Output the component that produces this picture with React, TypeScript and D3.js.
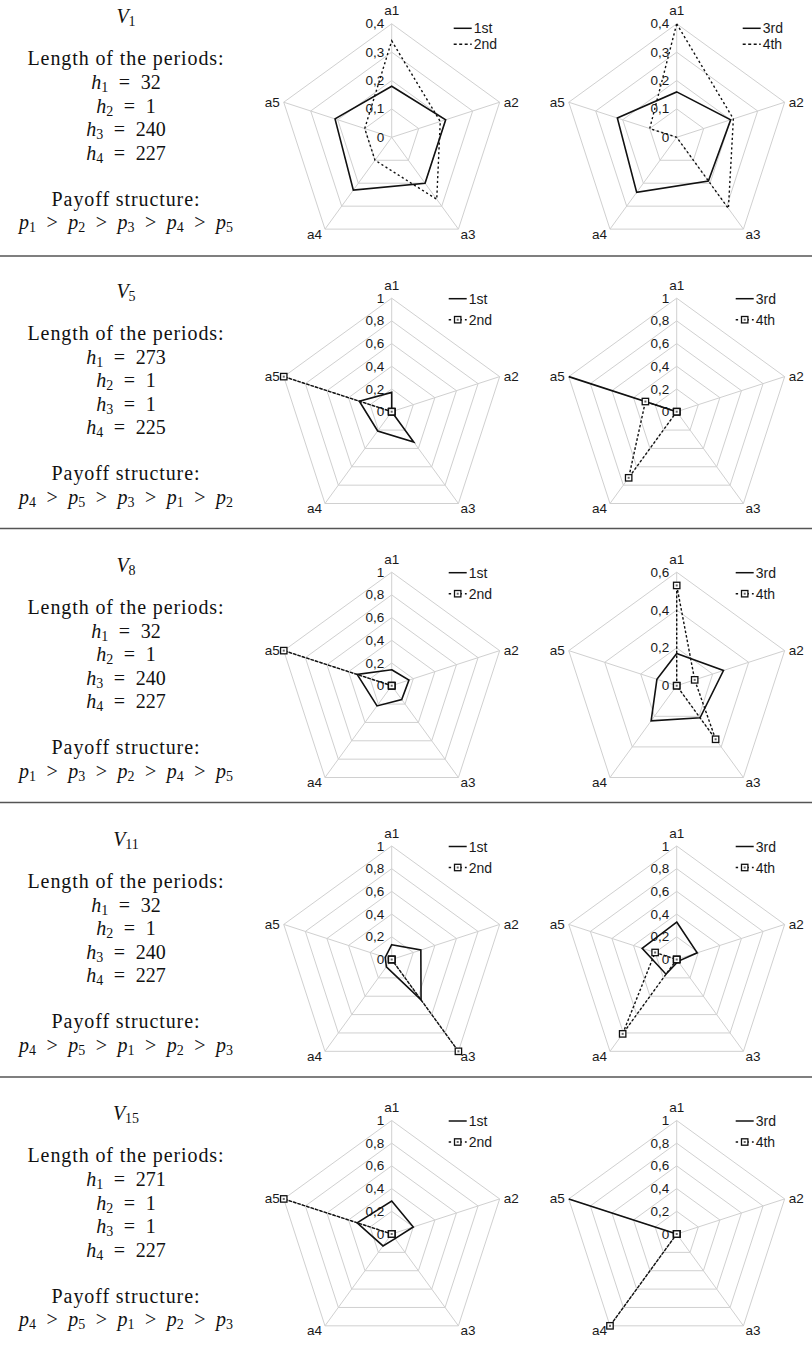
import React from "react";
import * as d3 from "d3";

// ---------- data ----------
const AXES = ["a1", "a2", "a3", "a4", "a5"];
const VENUES = ["1", "5", "8", "11", "15"];
const PERIOD_LENGTHS = [
  [32, 1, 240, 227],
  [273, 1, 1, 225],
  [32, 1, 240, 227],
  [32, 1, 240, 227],
  [271, 1, 1, 227],
];
const PAYOFF_ORDERS = [
  [1, 2, 3, 4, 5],
  [4, 5, 3, 1, 2],
  [1, 3, 2, 4, 5],
  [4, 5, 1, 2, 3],
  [4, 5, 1, 2, 3],
];
const LEFT_NAMES = ["1st", "2nd"];
const RIGHT_NAMES = ["3rd", "4th"];

const V1_1ST = [0.18, 0.2, 0.2, 0.23, 0.21];
const V1_2ND = [0.34, 0.18, 0.27, 0.1, 0.1];
const V1_3RD = [0.16, 0.2, 0.19, 0.24, 0.22];
const V1_4TH = [0.4, 0.21, 0.31, 0, 0.1];
const V5_1ST = [0.17, 0, 0.33, 0.21, 0.3];
const V5_2ND = [0, 0, 0, 0, 1];
const V5_3RD = [0, 0, 0, 0, 1];
const V5_4TH = [0, 0, 0, 0.72, 0.29];
const V8_1ST = [0.14, 0.16, 0.15, 0.22, 0.32];
const V8_2ND = [0, 0, 0, 0, 1];
const V8_3RD = [0.17, 0.26, 0.21, 0.23, 0.11];
const V8_4TH = [0.53, 0.1, 0.35, 0, 0];
const V11_1ST = [0.13, 0.27, 0.44, 0.08, 0.06];
const V11_2ND = [0, 0, 1, 0, 0];
const V11_3RD = [0.33, 0.19, 0.02, 0.16, 0.32];
const V11_4TH = [0, 0, 0, 0.81, 0.2];
const V15_1ST = [0.29, 0.2, 0.05, 0.13, 0.32];
const V15_2ND = [0, 0, 0, 0, 1];
const V15_3RD = [0, 0, 0, 0, 1];
const V15_4TH = [0, 0, 0, 1, 0];

const LEFT_SERIES = [
  [V1_1ST, V1_2ND],
  [V5_1ST, V5_2ND],
  [V8_1ST, V8_2ND],
  [V11_1ST, V11_2ND],
  [V15_1ST, V15_2ND],
];
const RIGHT_SERIES = [
  [V1_3RD, V1_4TH],
  [V5_3RD, V5_4TH],
  [V8_3RD, V8_4TH],
  [V11_3RD, V11_4TH],
  [V15_3RD, V15_4TH],
];
const LEFT_MAX = [0.4, 1, 1, 1, 1];
const RIGHT_MAX = [0.4, 1, 0.6, 1, 1];
const TICK_STEPS = [0.1, 0.2, 0.2, 0.2, 0.2];
const HAS_MARKERS = [false, true, true, true, true];

// ---------- layout ----------
const W = 812;
const H = 1353;
const ROW_CY = [137.3, 411.7, 685.7, 959.5, 1234];
const COL_CX = [391.7, 676.7];
const R = 113.5;
const SEPARATOR_Y = [256, 528.5, 802.5, 1077];
const TEXT_CX = 126;
const SERIF = "'Liberation Serif', 'Times New Roman', serif";
const SANS = "'Liberation Sans', Arial, sans-serif";
const INK = "#111";
const GRID = "#d0d0d0";
const LABEL = "#1a1a1a";

const locale = d3.formatLocale({ decimal: ",", thousands: ".", grouping: [3], currency: ["", ""] });
const fmt = locale.format("~g");

const angle = (i: number) => (i * 2 * Math.PI) / AXES.length;

function Marker({ x, y }: { x: number; y: number }) {
  return (
    <g>
      <rect x={x - 3.2} y={y - 3.2} width={6.4} height={6.4} fill="#fff" stroke={INK} strokeWidth={1.3} />
      <rect x={x - 1} y={y - 1} width={2} height={2} fill="#666" />
    </g>
  );
}

function Radar(props: {
  cx: number;
  cy: number;
  max: number;
  step: number;
  series: number[][];
  names: string[];
  markers: boolean;
  legendDx: number;
  legendDy: number[];
}) {
  const { cx, cy, max, step, series, names, markers, legendDx, legendDy } = props;
  const r = d3.scaleLinear().domain([0, max]).range([0, R]);
  const ticks = d3.range(0, max + step / 2, step).map((t) => +t.toFixed(4));
  const radial = d3
    .lineRadial<number>()
    .angle((_d, i) => angle(i))
    .radius((d) => r(d))
    .curve(d3.curveLinearClosed);
  const pt = (i: number, v: number) => [cx + r(v) * Math.sin(angle(i)), cy - r(v) * Math.cos(angle(i))];
  const dash = markers ? "2.6,2" : "2.2,2.6";

  const labelPos = (i: number) => {
    const [x, y] = pt(i, max);
    if (i === 0) return { x, y: y - 13, anchor: "middle" };
    if (i === 1) return { x: x + 4, y, anchor: "start" };
    if (i === 2) return { x: x + 2, y: y + 5, anchor: "start" };
    if (i === 3) return { x: x - 3, y: y + 5, anchor: "end" };
    return { x: x - 4, y, anchor: "end" };
  };

  const lx0 = cx + legendDx;
  const lx1 = lx0 + 18;

  return (
    <g>
      {ticks
        .filter((t) => t > 0)
        .map((t) => (
          <path
            key={"ring" + t}
            d={radial(AXES.map(() => t)) || ""}
            transform={`translate(${cx},${cy})`}
            fill="none"
            stroke={GRID}
            strokeWidth={1}
          />
        ))}
      {AXES.map((a, i) => {
        const [x, y] = pt(i, max);
        return <line key={"sp" + a} x1={cx} y1={cy} x2={x} y2={y} stroke={GRID} strokeWidth={1} />;
      })}
      {ticks.map((t) => (
        <text
          key={"tk" + t}
          x={cx - 7.5}
          y={cy - r(t)}
          textAnchor="end"
          dominantBaseline="central"
          fontFamily={SANS}
          fontSize={13.5}
          fill={LABEL}
        >
          {fmt(t)}
        </text>
      ))}
      {AXES.map((a, i) => {
        const p = labelPos(i);
        return (
          <text
            key={"al" + a}
            x={p.x}
            y={p.y}
            textAnchor={p.anchor as any}
            dominantBaseline="central"
            fontFamily={SANS}
            fontSize={13.5}
            fill={LABEL}
          >
            {a}
          </text>
        );
      })}
      <path
        d={radial(series[1]) || ""}
        transform={`translate(${cx},${cy})`}
        fill="none"
        stroke={INK}
        strokeWidth={1.4}
        strokeDasharray={dash}
      />
      <path
        d={radial(series[0]) || ""}
        transform={`translate(${cx},${cy})`}
        fill="none"
        stroke={INK}
        strokeWidth={1.6}
      />
      {markers &&
        series[1].map((v, i) => {
          const [x, y] = pt(i, v);
          return <Marker key={"mk" + i} x={x} y={y} />;
        })}
      <line x1={lx0} x2={lx1} y1={cy + legendDy[0]} y2={cy + legendDy[0]} stroke={INK} strokeWidth={1.5} />
      <text
        x={lx1 + 2}
        y={cy + legendDy[0]}
        dominantBaseline="central"
        fontFamily={SANS}
        fontSize={14}
        fill={LABEL}
      >
        {names[0]}
      </text>
      <line
        x1={lx0}
        x2={lx1}
        y1={cy + legendDy[1]}
        y2={cy + legendDy[1]}
        stroke={INK}
        strokeWidth={1.4}
        strokeDasharray={markers ? "2.4,3" : "3,2.5"}
      />
      {markers && <Marker x={(lx0 + lx1) / 2} y={cy + legendDy[1]} />}
      <text
        x={lx1 + 2}
        y={cy + legendDy[1]}
        dominantBaseline="central"
        fontFamily={SANS}
        fontSize={14}
        fill={LABEL}
      >
        {names[1]}
      </text>
    </g>
  );
}

const GAP = 10.5;
const SUB_SIZE = 14;
const SUB_SHIFT = 5;

function InfoBlock({ row, cy }: { row: number; cy: number }) {
  const lines = PERIOD_LENGTHS[row];
  const order = PAYOFF_ORDERS[row];
  const base = { x: TEXT_CX, textAnchor: "middle" as const, fontFamily: SERIF, fontSize: 20, fill: "#111" };
  const lineY = (k: number) => cy - 55 + k * 23.5;
  return (
    <g>
      <text {...base} y={cy - 121} dominantBaseline="central">
        <tspan fontStyle="italic">V</tspan>
        <tspan fontSize={SUB_SIZE} dy={SUB_SHIFT}>
          {VENUES[row]}
        </tspan>
      </text>
      <text {...base} y={cy - 79} dominantBaseline="central" letterSpacing={0.9}>
        Length of the periods:
      </text>
      {lines.map((v, k) => (
        <text key={k} {...base} y={lineY(k)} dominantBaseline="central">
          <tspan fontStyle="italic">h</tspan>
          <tspan fontSize={SUB_SIZE} dy={SUB_SHIFT}>
            {String(k + 1)}
          </tspan>
          <tspan dx={GAP} dy={-SUB_SHIFT}>
            =
          </tspan>
          <tspan dx={GAP}>{String(v)}</tspan>
        </text>
      ))}
      <text {...base} y={cy + 61.5} dominantBaseline="central" letterSpacing={0.9}>
        Payoff structure:
      </text>
      <text {...base} y={cy + 85} dominantBaseline="central">
        {order.map((p, k) => (
          <React.Fragment key={k}>
            {k > 0 && (
              <tspan dx={GAP} dy={-SUB_SHIFT}>
                {">"}
              </tspan>
            )}
            <tspan dx={k > 0 ? GAP : 0} fontStyle="italic">
              p
            </tspan>
            <tspan fontSize={SUB_SIZE} dy={SUB_SHIFT}>
              {String(p)}
            </tspan>
          </React.Fragment>
        ))}
      </text>
    </g>
  );
}

export default function App() {
  return (
    <svg
      width={W}
      height={H}
      viewBox={`0 0 ${W} ${H}`}
      style={{ position: "absolute", left: 0, top: 0, background: "#fff" }}
    >
      <rect x={0} y={0} width={W} height={H} fill="#fff" />
      {SEPARATOR_Y.map((y) => (
        <line key={"sep" + y} x1={0} x2={W} y1={y} y2={y} stroke="#555" strokeWidth={1.5} />
      ))}
      {ROW_CY.map((cy, row) => (
        <g key={"row" + row}>
          <InfoBlock row={row} cy={cy} />
          <Radar
            cx={COL_CX[0]}
            cy={cy}
            max={LEFT_MAX[row]}
            step={TICK_STEPS[row]}
            series={LEFT_SERIES[row]}
            names={LEFT_NAMES}
            markers={HAS_MARKERS[row]}
            legendDx={row === 0 ? 62 : 57}
            legendDy={row === 0 ? [-109, -93] : [-113, -92]}
          />
          <Radar
            cx={COL_CX[1]}
            cy={cy}
            max={RIGHT_MAX[row]}
            step={TICK_STEPS[row]}
            series={RIGHT_SERIES[row]}
            names={RIGHT_NAMES}
            markers={HAS_MARKERS[row]}
            legendDx={row === 0 ? 66 : 59}
            legendDy={row === 0 ? [-109, -93] : [-113, -92]}
          />
        </g>
      ))}
    </svg>
  );
}
